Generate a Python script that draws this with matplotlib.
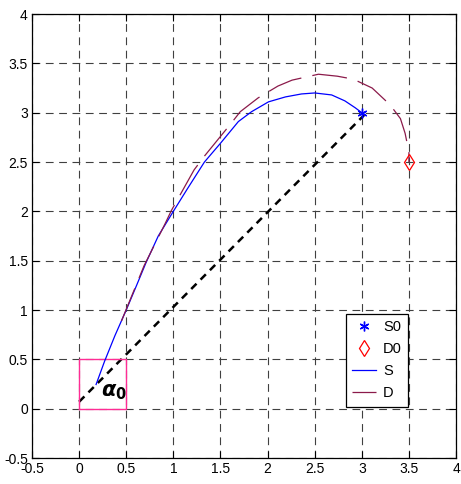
import matplotlib
matplotlib.use("Agg")
import matplotlib.pyplot as plt
import numpy as np

plt.rcParams["font.family"] = ["Liberation Sans", "DejaVu Sans"]

# trajectory of S (start -> S0)
s_x = [0.18, 0.27, 0.38, 0.50, 0.61, 0.71, 0.84, 1.00, 1.15, 1.33, 1.50,
       1.69, 1.83, 2.01, 2.19, 2.36, 2.50, 2.68, 2.82, 2.93, 3.00]
s_y = [0.245, 0.48, 0.74, 1.00, 1.25, 1.48, 1.75, 2.00, 2.23, 2.50, 2.69,
       2.91, 3.01, 3.11, 3.16, 3.19, 3.20, 3.18, 3.12, 3.05, 3.00]

# trajectory of D (-> D0)
d_x = [0.45, 0.69, 0.91, 0.98, 1.22, 1.33, 1.62, 1.71, 1.90, 2.11, 2.26,
       2.54, 2.74, 2.91, 3.11, 3.30, 3.41, 3.46, 3.50, 3.50]
d_y = [0.89, 1.45, 1.87, 2.01, 2.42, 2.56, 2.90, 3.01, 3.15, 3.27, 3.33,
       3.39, 3.37, 3.34, 3.25, 3.08, 2.94, 2.79, 2.60, 2.50]

s0 = (3.0, 3.0)
d0 = (3.5, 2.5)

# line of sight and initial box
los_x = [0.0, 3.05]
los_y = [0.07, 3.0]
box_x = [0, 0.5, 0.5, 0, 0]
box_y = [0, 0, 0.5, 0.5, 0]

fig = plt.figure(figsize=(4.61, 4.84), dpi=100)
ax = fig.add_axes([0.0694, 0.0537, 0.9198, 0.9173])

ax.plot(s0[0], s0[1], linestyle="none", marker=(6, 2, 0), color="blue",
        markersize=7, markeredgewidth=1, label="S0", zorder=5)
ax.plot(d0[0], d0[1], linestyle="none", marker="d", markerfacecolor="none",
        markeredgecolor="red", markersize=8, markeredgewidth=0.9, label="D0", zorder=5)
ax.plot(s_x, s_y, color="blue", lw=0.9, label="S", zorder=3)
ax.plot(d_x, d_y, color="#8b1a4a", lw=0.9, linestyle=(0, (28, 9)), label="D", zorder=4)

ax.plot(los_x, los_y, color="black", lw=1.8, linestyle=(0, (3, 2.3)), zorder=2)
ax.plot(box_x, box_y, color="#ff2d95", lw=1.0, zorder=2)
ax.text(0.37, 0.17, r"$\boldsymbol{\alpha}_\mathbf{0}$", fontsize=15,
        ha="center", va="center", zorder=6)

ax.set_xlim(-0.5, 4)
ax.set_ylim(-0.5, 4)
ticks = np.arange(-0.5, 4.01, 0.5)
ax.set_xticks(ticks)
ax.set_yticks(ticks)
ax.set_xticklabels([f"{t:g}" for t in ticks])
ax.set_yticklabels([f"{t:g}" for t in ticks])
ax.tick_params(direction="in", length=5, width=0.8, top=True, right=True,
               labelsize=10, pad=3)
ax.grid(True, color="0.25", lw=0.8, linestyle=(0, (7, 5)))
for sp in ax.spines.values():
    sp.set_linewidth(0.9)

leg = ax.legend(loc="lower left", bbox_to_anchor=(0.74, 0.115), fontsize=10.5,
                fancybox=False, edgecolor="black", framealpha=1,
                handlelength=1.6, handletextpad=0.5, borderpad=0.45,
                labelspacing=0.55, borderaxespad=0)
leg.get_frame().set_linewidth(0.9)

fig.savefig("out.png", dpi=100)
